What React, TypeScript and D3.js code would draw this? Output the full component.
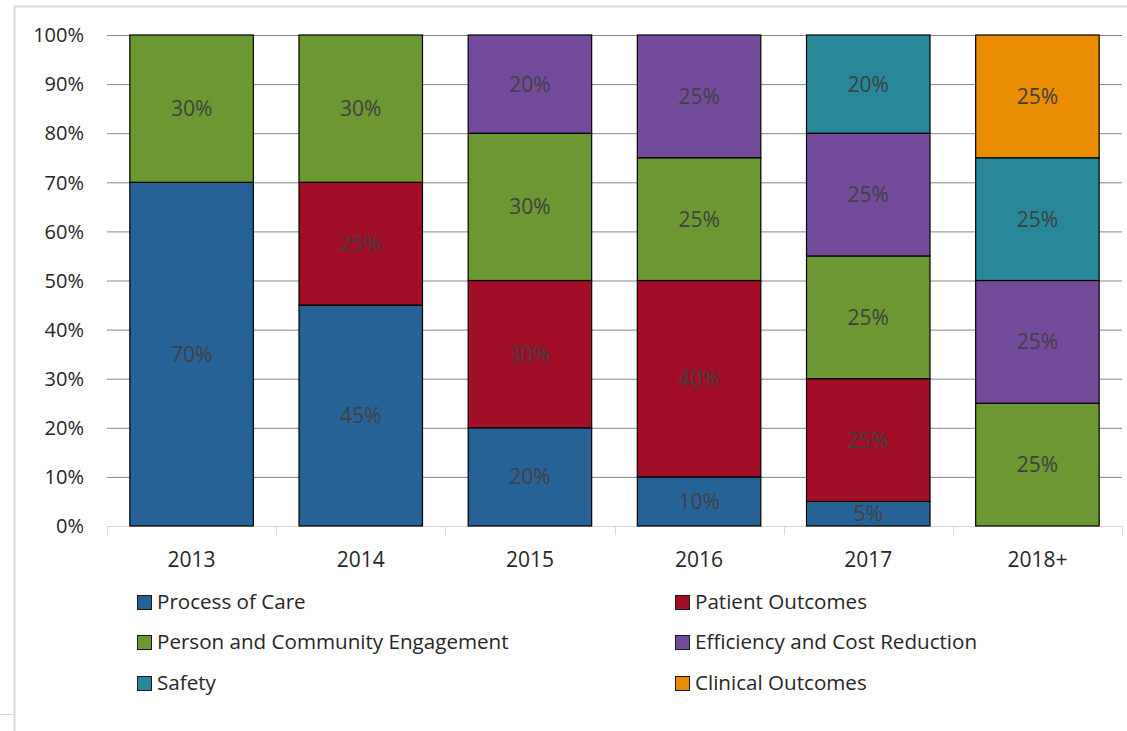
import React, { useEffect, useRef } from 'react';
import * as d3 from 'd3';

const years = ['2013', '2014', '2015', '2016', '2017', '2018+'];
const seriesNames = [
  'Process of Care',
  'Patient Outcomes',
  'Person and Community Engagement',
  'Efficiency and Cost Reduction',
  'Safety',
  'Clinical Outcomes',
];
const processOfCare = [70, 45, 20, 10, 5, 0];
const patientOutcomes = [0, 25, 30, 40, 25, 0];
const personCommunity = [30, 30, 30, 25, 25, 25];
const efficiency = [0, 0, 20, 25, 25, 25];
const safety = [0, 0, 0, 0, 20, 25];
const clinicalOutcomes = [0, 0, 0, 0, 0, 25];
const colors = ['#276296', '#a20e25', '#6b9833', '#744b9b', '#288897', '#ea8c00'];
const yTicks = [0, 10, 20, 30, 40, 50, 60, 70, 80, 90, 100];

const App = () => {
  const svgRef = useRef<SVGSVGElement>(null);

  useEffect(() => {
    const svg = d3.select(svgRef.current);
    svg.selectAll('*').remove();

    const width = 1127;
    const height = 731;
    const margin = { top: 35, right: 5, bottom: 205, left: 107 };
    const font = '"Open Sans", "Noto Sans", sans-serif';

    const allSeries = [processOfCare, patientOutcomes, personCommunity, efficiency, safety, clinicalOutcomes];
    const rows = years.map((yr, i) => {
      const row: any = { year: yr };
      seriesNames.forEach((n, j) => (row[n] = allSeries[j][i]));
      return row;
    });
    const stacked = d3.stack().keys(seriesNames)(rows);

    const x = d3.scaleBand().domain(years).range([margin.left, width - margin.right]).paddingInner(0.27).paddingOuter(0.135);
    const xOuter = d3.scaleBand().domain(years).range([margin.left, width - margin.right]);
    const y = d3.scaleLinear().domain([0, 100]).range([height - margin.bottom, margin.top]);

    // frame from the screenshot
    svg.append('line').attr('x1', 14).attr('x2', width).attr('y1', 6.5).attr('y2', 6.5).attr('stroke', '#d9d9d9').attr('stroke-width', 2);
    svg.append('line').attr('x1', 14.5).attr('x2', 14.5).attr('y1', 6).attr('y2', height).attr('stroke', '#d9d9d9').attr('stroke-width', 2);
    svg.append('line').attr('x1', 0).attr('x2', 14).attr('y1', 714.5).attr('y2', 714.5).attr('stroke', '#d9d9d9');

    // gridlines
    svg.append('g')
      .selectAll('line')
      .data(yTicks.filter(t => t > 0))
      .join('line')
      .attr('x1', margin.left)
      .attr('x2', width - margin.right)
      .attr('y1', d => y(d) + 0.5)
      .attr('y2', d => y(d) + 0.5)
      .attr('stroke', '#868686')
      .attr('stroke-width', 1);

    // y labels
    svg.append('g')
      .selectAll('text')
      .data(yTicks)
      .join('text')
      .attr('x', 84)
      .attr('y', d => y(d))
      .attr('dy', '0.36em')
      .attr('text-anchor', 'end')
      .attr('font-family', font)
      .attr('font-size', 20)
      .attr('fill', '#262626')
      .text(d => `${d}%`);

    // x axis
    svg.append('line')
      .attr('x1', margin.left)
      .attr('x2', width - margin.right)
      .attr('y1', y(0) + 0.5)
      .attr('y2', y(0) + 0.5)
      .attr('stroke', '#d9d9d9');
    const tickXs = years.map(yr => xOuter(yr)!).concat([width - margin.right]);
    svg.append('g')
      .selectAll('line')
      .data(tickXs)
      .join('line')
      .attr('x1', d => Math.round(d) + 0.5)
      .attr('x2', d => Math.round(d) + 0.5)
      .attr('y1', y(0))
      .attr('y2', y(0) + 9)
      .attr('stroke', '#d9d9d9');
    svg.append('g')
      .selectAll('text')
      .data(years)
      .join('text')
      .attr('x', d => xOuter(d)! + xOuter.bandwidth() / 2)
      .attr('y', 559)
      .attr('dy', '0.36em')
      .attr('text-anchor', 'middle')
      .attr('font-family', font)
      .attr('font-size', 21)
      .attr('fill', '#262626')
      .text(d => d);

    // bars
    const layers = svg.append('g')
      .selectAll('g')
      .data(stacked)
      .join('g')
      .attr('fill', (d, i) => colors[i]);
    layers.selectAll('rect')
      .data(d => d.filter(s => s[1] - s[0] > 0))
      .join('rect')
      .attr('x', d => x((d.data as any).year)!)
      .attr('width', x.bandwidth())
      .attr('y', d => y(d[1]))
      .attr('height', d => y(d[0]) - y(d[1]))
      .attr('stroke', '#000')
      .attr('stroke-width', 1.2);

    // data labels
    layers.selectAll('text')
      .data(d => d.filter(s => s[1] - s[0] > 0))
      .join('text')
      .attr('x', d => x((d.data as any).year)! + x.bandwidth() / 2)
      .attr('y', d => y((d[0] + d[1]) / 2))
      .attr('dy', '0.36em')
      .attr('text-anchor', 'middle')
      .attr('font-family', font)
      .attr('font-size', 21)
      .attr('fill', '#404040')
      .text(d => `${d[1] - d[0]}%`);

    // legend
    const legendCols = [137, 675];
    const legendRows = [602, 642, 683];
    const legend = svg.append('g')
      .selectAll('g')
      .data(seriesNames)
      .join('g')
      .attr('transform', (d, i) => `translate(${legendCols[i % 2]},${legendRows[Math.floor(i / 2)]})`);
    legend.append('rect')
      .attr('x', 0.5)
      .attr('y', -6.5)
      .attr('width', 14)
      .attr('height', 14)
      .attr('fill', (d, i) => colors[i])
      .attr('stroke', '#1a1a1a');
    legend.append('text')
      .attr('x', 20)
      .attr('y', 0)
      .attr('dy', '0.36em')
      .attr('font-family', font)
      .attr('font-size', 20.6)
      .attr('fill', '#262626')
      .text(d => d);
  }, []);

  return (
    <svg
      ref={svgRef}
      width={1127}
      height={731}
      style={{ position: 'absolute', left: 0, top: 0, background: '#fff' }}
    />
  );
};

export default App;
